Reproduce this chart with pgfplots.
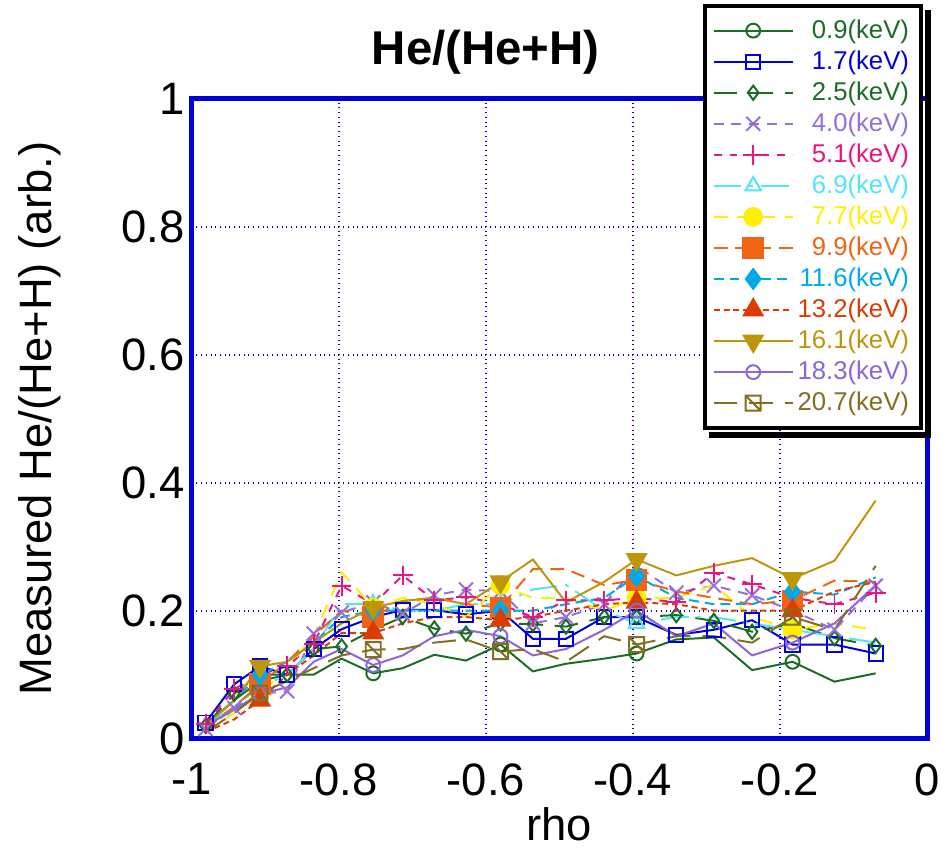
\documentclass[border=0pt]{standalone}
\usepackage{fontspec}
\setmainfont{Liberation Sans}
\usepackage{pgfplots}
\usepackage{pgfplotstable}
\pgfplotsset{compat=1.18}
\usetikzlibrary{plotmarks}

\definecolor{cA}{RGB}{25,110,35}
\definecolor{cB}{RGB}{0,0,220}
\definecolor{cC}{RGB}{25,110,35}
\definecolor{cD}{RGB}{147,112,219}
\definecolor{cE}{RGB}{235,20,130}
\definecolor{cF}{RGB}{80,230,245}
\definecolor{cG}{RGB}{255,240,0}
\definecolor{cH}{RGB}{240,100,20}
\definecolor{cI}{RGB}{0,170,230}
\definecolor{cJ}{RGB}{220,60,0}
\definecolor{cK}{RGB}{190,150,10}
\definecolor{cL}{RGB}{140,100,220}
\definecolor{cM}{RGB}{130,110,30}
\definecolor{frameblue}{RGB}{0,0,215}

\pgfdeclareplotmark{sqslash}{%
  \pgfpathrectangle{\pgfpoint{-\pgfplotmarksize}{-\pgfplotmarksize}}{\pgfpoint{2\pgfplotmarksize}{2\pgfplotmarksize}}%
  \pgfpathmoveto{\pgfpoint{-\pgfplotmarksize}{\pgfplotmarksize}}%
  \pgfpathlineto{\pgfpoint{\pgfplotmarksize}{-\pgfplotmarksize}}%
  \pgfusepathqstroke}

\pgfplotstableread{
x      a     b     c     d     e     f     g     h     i     j     k     l     m
-0.981 0.020 0.025 0.020 0.015 0.023 0.020 0.010 0.015 0.020 0.010 0.020 0.020 0.010
-0.942 0.060 0.085 0.070 0.048 0.077 0.050 0.040 0.050 0.060 0.030 0.060 0.045 0.040
-0.907 0.090 0.113 0.100 0.070 0.100 0.080 0.070 0.085 0.100 0.060 0.113 0.070 0.071
-0.870 0.100 0.100 0.100 0.074 0.113 0.100 0.110 0.120 0.120 0.100 0.120 0.080 0.090
-0.834 0.100 0.140 0.140 0.164 0.148 0.140 0.160 0.160 0.150 0.130 0.150 0.120 0.110
-0.796 0.125 0.171 0.144 0.197 0.239 0.210 0.260 0.200 0.190 0.165 0.180 0.140 0.130
-0.753 0.102 0.190 0.170 0.213 0.210 0.210 0.205 0.190 0.200 0.165 0.205 0.115 0.139
-0.713 0.110 0.201 0.190 0.195 0.255 0.200 0.220 0.215 0.200 0.180 0.215 0.130 0.140
-0.670 0.131 0.201 0.172 0.224 0.216 0.200 0.210 0.220 0.200 0.190 0.220 0.160 0.150
-0.627 0.122 0.194 0.164 0.233 0.221 0.210 0.190 0.210 0.200 0.190 0.210 0.170 0.155
-0.580 0.147 0.200 0.180 0.230 0.210 0.210 0.240 0.205 0.200 0.185 0.245 0.160 0.136
-0.536 0.105 0.156 0.179 0.180 0.190 0.233 0.220 0.265 0.200 0.190 0.280 0.130 0.140
-0.491 0.117 0.156 0.175 0.190 0.216 0.240 0.220 0.265 0.210 0.200 0.213 0.140 0.120
-0.439 0.125 0.190 0.190 0.210 0.216 0.200 0.200 0.240 0.220 0.210 0.245 0.170 0.160
-0.395 0.133 0.190 0.190 0.270 0.220 0.180 0.220 0.248 0.254 0.213 0.280 0.200 0.147
-0.341 0.155 0.162 0.193 0.228 0.213 0.190 0.220 0.230 0.220 0.210 0.255 0.160 0.160
-0.290 0.158 0.170 0.184 0.239 0.259 0.190 0.240 0.220 0.210 0.200 0.270 0.180 0.160
-0.238 0.107 0.185 0.167 0.224 0.241 0.180 0.190 0.210 0.210 0.200 0.282 0.130 0.150
-0.183 0.120 0.147 0.180 0.200 0.220 0.170 0.170 0.216 0.230 0.200 0.250 0.150 0.190
-0.126 0.089 0.147 0.157 0.170 0.210 0.160 0.180 0.247 0.225 0.230 0.278 0.180 0.170
-0.070 0.102 0.133 0.145 0.239 0.228 0.150 0.170 0.245 0.252 0.245 0.372 0.240 0.270
}\datatable

\begin{document}
\begin{tikzpicture}
\begin{axis}[
  scale only axis,
  width=372.5pt, height=324pt,
  xmin=-1, xmax=0, ymin=0, ymax=1,
  xtick={-1,-0.8,-0.6,-0.4,-0.2,0},
  ytick={0,0.2,0.4,0.6,0.8,1},
  xticklabels={-1,-0.8,-0.6,-0.4,-0.2,0},
  yticklabels={0,0.2,0.4,0.6,0.8,1},
  grid=major,
  major grid style={draw=frameblue, dotted, line width=1.1pt},
  axis line style={draw=frameblue, line width=2.5pt},
  tick style={draw=none},
  tick label style={font=\fontsize{23}{23}\selectfont},
  xticklabel style={yshift=-9pt},
  /pgf/number format/assume math mode=true,
  xlabel={rho},
  ylabel={Measured He/(He+H) (arb.)},
  label style={font=\fontsize{23}{23}\selectfont},
  xlabel style={at={(axis description cs:0.5,-0.134)}, anchor=center},
  ylabel style={at={(axis description cs:-0.207,0.5)}, anchor=center},
  title={He/(He+H)},
  title style={at={(axis description cs:0.4,1.054)}, anchor=center, font=\bfseries\fontsize{24}{24}\selectfont},
  legend cell align=right,
  legend style={name=leg, at={(axis description cs:0.994,1.148)}, anchor=north east,
    draw=black, line width=2pt, fill=white,
    font=\fontsize{13}{13}\selectfont, row sep=0.8pt, inner xsep=4pt, inner ysep=5pt,
    /tikz/every even column/.append style={column sep=8pt}},
  legend image code/.code={\draw[#1, mark indices={2}] plot coordinates {(0pt,0pt) (20pt,0pt) (40pt,0pt)};},
  every axis plot/.append style={line width=1pt},
]
\addplot[cA, solid, mark=o, mark size=3.5pt, mark options={solid}, mark indices={3,7,11,15,19}] table[x=x,y=a] {\datatable};
\addlegendentry{\textcolor{cA}{0.9(keV)}}
\addplot[cB, solid, mark=square, mark size=3.6pt, mark options={solid}] table[x=x,y=b] {\datatable};
\addlegendentry{\textcolor{cB}{1.7(keV)}}
\addplot[cC, dash pattern=on 12pt off 6pt, mark=diamond, mark size=3.6pt, mark options={solid}] table[x=x,y=c] {\datatable};
\addlegendentry{\textcolor{cC}{2.5(keV)}}
\addplot[cD, dash pattern=on 5pt off 4pt, mark=x, mark size=5pt, mark options={solid}] table[x=x,y=d] {\datatable};
\addlegendentry{\textcolor{cD}{4.0(keV)}}
\addplot[cE, dash pattern=on 4pt off 4pt, mark=+, mark size=5pt, mark options={solid}] table[x=x,y=e] {\datatable};
\addlegendentry{\textcolor{cE}{5.1(keV)}}
\addplot[cF, dash pattern=on 14pt off 4pt on 2pt off 4pt, mark=triangle, mark size=4.5pt, mark options={solid}, mark indices={3,7,11,15,19}] table[x=x,y=f] {\datatable};
\addlegendentry{\textcolor{cF}{6.9(keV)}}
\addplot[cG, dash pattern=on 7pt off 5pt, mark=*, mark size=4.5pt, mark options={solid}, mark indices={3,7,11,15,19}] table[x=x,y=g] {\datatable};
\addlegendentry{\textcolor{cG}{7.7(keV)}}
\addplot[cH, dash pattern=on 7pt off 4pt, mark=square*, mark size=5pt, mark options={solid}, mark indices={3,7,11,15,19}] table[x=x,y=h] {\datatable};
\addlegendentry{\textcolor{cH}{9.9(keV)}}
\addplot[cI, dash pattern=on 5pt off 3pt, mark=diamond*, mark size=5pt, mark options={solid}, mark indices={3,7,11,15,19}] table[x=x,y=i] {\datatable};
\addlegendentry{\textcolor{cI}{11.6(keV)}}
\addplot[cJ, dash pattern=on 3pt off 2pt, mark=triangle*, mark size=5.5pt, mark options={solid}, mark indices={3,7,11,15,19}] table[x=x,y=j] {\datatable};
\addlegendentry{\textcolor{cJ}{13.2(keV)}}
\addplot[cK, solid, mark=triangle*, mark size=5.5pt, mark options={solid, rotate=180}, mark indices={3,7,11,15,19}] table[x=x,y=k] {\datatable};
\addlegendentry{\textcolor{cK}{16.1(keV)}}
\addplot[cL, solid, mark=o, mark size=3.5pt, mark options={solid}, mark indices={3,7,11,15,19}] table[x=x,y=l] {\datatable};
\addlegendentry{\textcolor{cL}{18.3(keV)}}
\addplot[cM, dash pattern=on 12pt off 6pt, mark=sqslash, mark size=3.8pt, mark options={solid}, mark indices={3,7,11,15,19}] table[x=x,y=m] {\datatable};
\addlegendentry{\textcolor{cM}{20.7(keV)}}
\end{axis}
\fill[black] ([xshift=1pt,yshift=-3pt]leg.north east) rectangle ([xshift=4pt,yshift=-4pt]leg.south east);
\fill[black] ([xshift=3pt,yshift=-1pt]leg.south west) rectangle ([xshift=4pt,yshift=-4pt]leg.south east);
\pgfresetboundingbox
\useasboundingbox ([xshift=-97pt,yshift=-58pt]current axis.south west) rectangle ([xshift=7.5pt,yshift=50pt]current axis.north east);
\end{tikzpicture}
\end{document}
